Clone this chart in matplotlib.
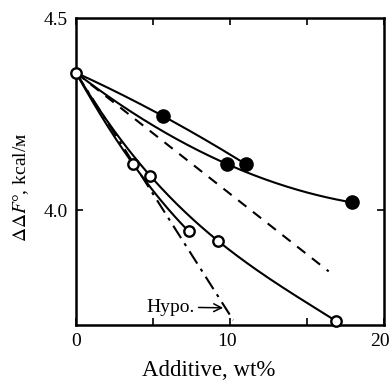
import numpy as np
import matplotlib.pyplot as plt
import matplotlib.transforms as mtransforms

plt.rcParams['font.family'] = ['Liberation Serif', 'DejaVu Serif']
plt.rcParams['mathtext.fontset'] = 'stix'

# --- data ---
origin = (0.0, 4.358)

# filled circles, upper line
fill_a_x = [0.0, 5.65, 11.0]
fill_a_y = [4.358, 4.245, 4.12]
# filled circles, lower curve
fill_b_x = [0.0, 9.8, 17.9]
fill_b_y = [4.358, 4.12, 4.02]
# open circles, steep curve
open_a_x = [0.0, 3.7, 7.3]
open_a_y = [4.358, 4.12, 3.945]
# open circles, long curve
open_b_x = [0.0, 4.8, 9.2, 16.9]
open_b_y = [4.358, 4.09, 3.92, 3.71]
# dashed line
dash_x = [0.0, 16.4]
dash_y = [4.358, 3.84]
# hypothetical (dash-dot) line
hypo_x = [0.0, 10.2]
hypo_y = [4.358, 3.713]


def smooth(xs, ys):
    # exact polynomial through the read points, just for drawing
    c = np.polyfit(xs, ys, len(xs) - 1)
    xx = np.linspace(xs[0], xs[-1], 200)
    return xx, np.polyval(c, xx)


fig = plt.figure(figsize=(3.92, 3.82), dpi=100)
ax = fig.add_axes([0.194, 0.149, 0.786, 0.803])

lw = 1.5
for xs, ys in [(fill_a_x, fill_a_y), (fill_b_x, fill_b_y),
               (open_a_x, open_a_y), (open_b_x, open_b_y)]:
    xx, yy = smooth(xs, ys)
    ax.plot(xx, yy, color='black', lw=lw)

ax.plot(dash_x, dash_y, color='black', lw=lw, ls=(0, (5, 4)))
ax.plot(hypo_x, hypo_y, color='black', lw=lw, ls=(0, (7, 3, 1.5, 3)))

ax.plot(fill_a_x[1:], fill_a_y[1:], 'o', color='black', ms=9.5)
ax.plot(fill_b_x[1:], fill_b_y[1:], 'o', color='black', ms=9.5, clip_on=False)
ax.plot(open_a_x[1:] + open_b_x[1:], open_a_y[1:] + open_b_y[1:], 'o',
        mfc='white', mec='black', mew=1.7, ms=7.5, clip_on=False, zorder=5)
ax.plot([origin[0]], [origin[1]], 'o', mfc='white', mec='black', mew=1.7,
        ms=7.5, clip_on=False, zorder=5)

ax.annotate('Hypo.', xy=(9.55, 3.745), xytext=(4.55, 3.747),
            fontsize=14, va='center', ha='left',
            arrowprops=dict(arrowstyle='->', color='black', lw=1.1,
                            shrinkA=1, shrinkB=0))

ax.set_xlim(0, 20)
ax.set_ylim(3.70, 4.5)
ax.set_xticks([0, 5, 10, 15, 20])
ax.set_xticklabels(['0', '', '10', '', '20'])
ax.set_yticks([4.0, 4.5])
ax.set_yticklabels(['4.0', '4.5'])
ax.tick_params(direction='in', length=5, width=1.2, labelsize=14,
               top=True, right=True, pad=6)
ax.yaxis.get_major_ticks()[1].tick1line.set_visible(False)
ax.yaxis.get_major_ticks()[1].tick2line.set_visible(False)
for s in ax.spines.values():
    s.set_linewidth(1.8)

# pull the "20" and "10" labels a touch left, as in the scan
for lab, dx in [(ax.get_xticklabels()[4], -4), (ax.get_xticklabels()[2], -3)]:
    lab.set_transform(lab.get_transform() +
                      mtransforms.ScaledTranslation(dx / 100, 0, fig.dpi_scale_trans))

ax.set_xlabel('Additive, wt%', fontsize=16.5)
ax.xaxis.set_label_coords(0.43, -0.115)
ax.set_ylabel(r'$\mathit{\Delta\Delta F}$°, kcal/м', fontsize=14)
ax.yaxis.set_label_coords(-0.145, 0.45)

fig.savefig('out.png', dpi=100)
